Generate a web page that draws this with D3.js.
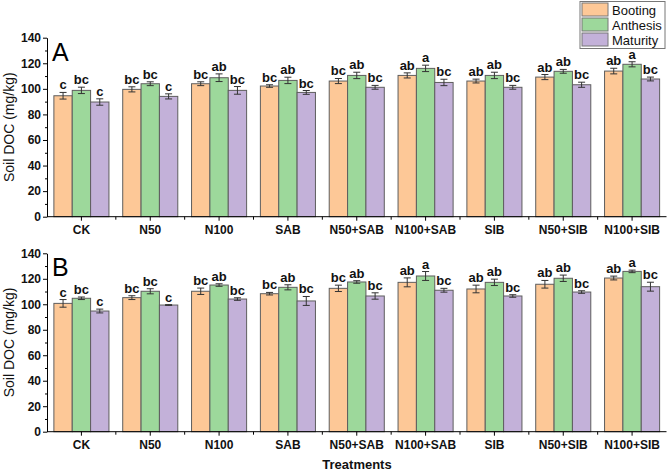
<!DOCTYPE html>
<html>
<head>
<meta charset="utf-8">
<script src="https://cdn.jsdelivr.net/npm/d3@7"></script>
<style>
  body { margin: 0; background: #fff; }
  svg { font-family: "Liberation Sans", Arial, sans-serif; }
</style>
</head>
<body>
<div class="canvas"></div>
<script>
const categories = ['CK', 'N50', 'N100', 'SAB', 'N50+SAB', 'N100+SAB', 'SIB', 'N50+SIB', 'N100+SIB'];
const stages = ['Booting', 'Anthesis', 'Maturity'];
const colors = ['#FDC897', '#9DD89B', '#C3B1D9'];
const yTicks = [0, 20, 40, 60, 80, 100, 120, 140];

// panel A
const aBooting  = [94.6, 99.6, 104.0, 102.2, 106.1, 110.5, 106.1, 109.2, 113.9];
const aAnthesis = [98.8, 104.0, 108.7, 106.6, 110.5, 116.0, 110.5, 113.7, 119.2];
const aMaturity = [89.7, 94.1, 98.8, 97.2, 101.2, 105.0, 101.2, 103.2, 107.7];
const aErrBooting  = [2.6, 2.0, 1.5, 1.0, 2.0, 2.0, 1.5, 2.0, 2.2];
const aErrAnthesis = [2.5, 1.5, 3.0, 2.5, 2.5, 2.5, 2.5, 1.5, 2.0];
const aErrMaturity = [2.5, 2.0, 3.0, 1.5, 1.5, 2.5, 1.5, 2.0, 1.5];

// panel B
const bBooting  = [100.7, 105.2, 110.2, 108.3, 112.5, 117.2, 112.0, 115.7, 120.6];
const bAnthesis = [104.7, 110.2, 115.1, 113.3, 117.5, 122.2, 117.2, 120.4, 125.8];
const bMaturity = [94.7, 99.4, 104.1, 102.6, 106.5, 111.0, 106.5, 109.6, 113.8];
const bErrBooting  = [3.0, 1.5, 2.5, 1.0, 2.5, 3.5, 3.0, 3.0, 1.5];
const bErrAnthesis = [1.0, 2.0, 1.0, 2.0, 1.0, 3.5, 2.5, 2.5, 1.0];
const bErrMaturity = [1.5, 0.3, 1.0, 3.5, 2.5, 1.5, 1.0, 1.0, 3.5];

// significance letters (same in both panels)
const letBooting  = ['c', 'bc', 'bc', 'bc', 'bc', 'ab', 'ab', 'ab', 'ab'];
const letAnthesis = ['bc', 'bc', 'ab', 'ab', 'ab', 'a', 'ab', 'ab', 'a'];
const letMaturity = ['c', 'c', 'bc', 'bc', 'bc', 'bc', 'bc', 'bc', 'bc'];

const svg = d3.select('.canvas')
  .append('svg')
  .attr('width', 669)
  .attr('height', 472);

const x = d3.scaleBand().domain(categories).range([47, 666.5]).paddingInner(0.2).paddingOuter(0.1);
const xs = d3.scaleBand().domain(stages).range([0, x.bandwidth()]);

function drawPanel(top, bottom, label, vals, errs, lets) {
  const y = d3.scaleLinear().domain([0, 140]).range([bottom, top]);
  const g = svg.append('g');

  const rows = [];
  categories.forEach((c, i) => {
    stages.forEach((s, j) => {
      rows.push({ c, s, j, v: vals[j][i], e: errs[j][i], l: lets[j][i] });
    });
  });

  g.selectAll('rect.bar')
    .data(rows)
    .enter().append('rect')
      .attr('class', 'bar')
      .attr('x', d => x(d.c) + xs(d.s))
      .attr('y', d => y(d.v))
      .attr('width', xs.bandwidth())
      .attr('height', d => y(0) - y(d.v))
      .attr('fill', d => colors[d.j])
      .attr('stroke', '#5e5e5e')
      .attr('stroke-width', 1);

  // error bars
  const eb = g.selectAll('g.err')
    .data(rows)
    .enter().append('g')
      .attr('class', 'err')
      .attr('stroke', '#333')
      .attr('stroke-width', 1);
  const cx = d => x(d.c) + xs(d.s) + xs.bandwidth() / 2;
  eb.append('line')
    .attr('x1', cx).attr('x2', cx)
    .attr('y1', d => y(d.v - d.e)).attr('y2', d => y(d.v + d.e));
  eb.append('line')
    .attr('x1', d => cx(d) - 3.5).attr('x2', d => cx(d) + 3.5)
    .attr('y1', d => y(d.v + d.e)).attr('y2', d => y(d.v + d.e));
  eb.append('line')
    .attr('x1', d => cx(d) - 3.5).attr('x2', d => cx(d) + 3.5)
    .attr('y1', d => y(d.v - d.e)).attr('y2', d => y(d.v - d.e));

  g.selectAll('text.let')
    .data(rows)
    .enter().append('text')
      .attr('class', 'let')
      .attr('x', cx)
      .attr('y', d => y(d.v + d.e) - 3)
      .attr('text-anchor', 'middle')
      .style('font-size', '13px')
      .style('font-weight', 'bold')
      .style('fill', '#111')
      .text(d => d.l);

  // y axis
  const yAxis = d3.axisLeft(y).tickValues(yTicks).tickSize(4).tickSizeOuter(0);
  const ya = g.append('g').attr('transform', 'translate(47,0)').call(yAxis);
  ya.selectAll('text').style('font-size', '12px').style('font-weight', 'bold').style('fill', '#111').attr('x', -6);
  const yMinor = d3.axisLeft(y).tickValues(d3.range(10, 140, 20)).tickSize(2).tickFormat('');
  g.append('g').attr('transform', 'translate(47,0)').call(yMinor).select('.domain').remove();

  // x axis
  const xAxis = d3.axisBottom(x).tickSize(4).tickSizeOuter(0);
  const xa = g.append('g').attr('transform', `translate(0,${bottom})`).call(xAxis);
  xa.select('.domain').attr('d', `M47,0H666.5`);
  xa.selectAll('text').style('font-size', '12px').style('font-weight', 'bold').style('fill', '#111').attr('y', 9);
  const bounds = categories.slice(1).map(c => x(c) - x.step() * x.paddingInner() / 2);
  g.selectAll('line.xminor')
    .data(bounds)
    .enter().append('line')
      .attr('class', 'xminor')
      .attr('x1', d => d).attr('x2', d => d)
      .attr('y1', bottom).attr('y2', bottom + 3)
      .attr('stroke', '#000');
  g.selectAll('.tick line').attr('stroke', '#000');
  g.selectAll('.domain').attr('stroke', '#000');

  g.append('text')
    .attr('x', 52)
    .attr('y', top + 23)
    .style('font-size', '25px')
    .style('fill', '#000')
    .text(label);

  g.append('text')
    .attr('transform', `translate(14,${(top + bottom) / 2}) rotate(-90)`)
    .attr('text-anchor', 'middle')
    .style('font-size', '14px')
    .style('fill', '#111')
    .text('Soil DOC (mg/kg)');
}

drawPanel(37.7, 216.7, 'A',
  [aBooting, aAnthesis, aMaturity],
  [aErrBooting, aErrAnthesis, aErrMaturity],
  [letBooting, letAnthesis, letMaturity]);

drawPanel(253.3, 431.7, 'B',
  [bBooting, bAnthesis, bMaturity],
  [bErrBooting, bErrAnthesis, bErrMaturity],
  [letBooting, letAnthesis, letMaturity]);

svg.append('text')
  .attr('x', 357)
  .attr('y', 469)
  .attr('text-anchor', 'middle')
  .style('font-size', '13px')
  .style('font-weight', 'bold')
  .style('fill', '#111')
  .text('Treatments');

// legend
const legend = svg.append('g');
legend.append('rect')
  .attr('x', 580).attr('y', 1.5)
  .attr('width', 85).attr('height', 47)
  .attr('fill', '#fff').attr('stroke', '#777');
stages.forEach((s, i) => {
  legend.append('rect')
    .attr('x', 582).attr('y', 3 + i * 15)
    .attr('width', 26).attr('height', 13)
    .attr('fill', colors[i]).attr('stroke', '#777');
  legend.append('text')
    .attr('x', 612).attr('y', 14.5 + i * 15)
    .style('font-size', '13px')
    .style('fill', '#111')
    .text(s);
});
</script>
</body>
</html>
